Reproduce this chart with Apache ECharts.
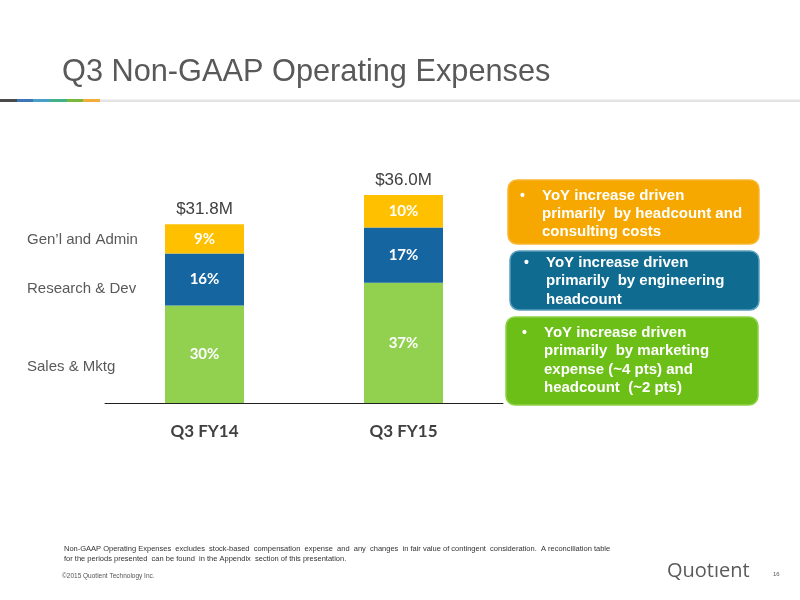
<!DOCTYPE html>
<html>
<head>
<meta charset="utf-8">
<script src="https://cdn.jsdelivr.net/npm/echarts@6/dist/echarts.min.js"></script>
<style>
html,body{margin:0;padding:0;background:#fff;}
#chart{width:800px;height:600px;}
</style>
</head>
<body>
<div id="chart"></div>
<script>
const categories = ['Q3 FY14', 'Q3 FY15'];
const salesMktg = [30, 37];
const researchDev = [16, 17];
const genAdmin = [9, 10];
const totals = ['$31.8M', '$36.0M'];
const segmentNames = ['Sales & Mktg', 'Research & Dev', 'Gen\u2019l and Admin'];
const calloutTexts = [
  ['YoY increase driven', 'primarily  by headcount and', 'consulting costs'],
  ['YoY increase driven', 'primarily  by engineering', 'headcount'],
  ['YoY increase driven', 'primarily  by marketing', 'expense (~4 pts) and', 'headcount  (~2 pts)']
];
const titleText = 'Q3 Non-GAAP Operating Expenses';
const footnote1 = 'Non-GAAP Operating Expenses  excludes  stock-based  compensation  expense  and  any  changes  in fair value of contingent  consideration.  A reconciliation table';
const footnote2 = 'for the periods presented  can be found  in the Appendix  section of this presentation.';
const copyright = '\u00a92015 Quotient Technology Inc.';
const pageNum = '16';

const chart = echarts.init(document.getElementById('chart'));
const pctLabel = {
  show: true, position: 'inside', color: '#ffffff',
  fontFamily: 'Lato', fontWeight: 'bold', fontSize: 15,
  formatter: p => p.value + '%'
};

function callout(x, y, w, h, fill, stroke, lines, textX, firstY, step) {
  const els = [{
    type: 'rect', shape: {x: x, y: y, width: w, height: h, r: 9},
    style: {fill: fill, stroke: stroke, lineWidth: 1.5}
  }];
  lines.forEach((t, i) => {
    if (i === 0) {
      els.push({type: 'text', style: {x: textX - 22, y: firstY, text: '\u2022', fill: '#fff',
        font: 'bold 14px "Liberation Sans", Arial', verticalAlign: 'middle'}});
    }
    els.push({type: 'text', style: {x: textX, y: firstY + i * step, text: t, fill: '#fff',
      font: 'bold 15px "Liberation Sans", Arial', verticalAlign: 'middle'}});
  });
  return els;
}

const deco = [
  ['#4a4a4a', 0, 17], ['#3f76b8', 17, 33], ['#4a9fc8', 33, 50],
  ['#41b18a', 50, 67], ['#7ab83c', 67, 83], ['#f2ad3a', 83, 100]
];

const graphics = [
  {type: 'text', x: 62, y: 72, scaleX: 0.96, style: {x: 0, y: 0, text: titleText, fill: '#595959',
    font: '32px "Liberation Sans", Arial', verticalAlign: 'middle'}},
  {type: 'rect', shape: {x: 100, y: 99.5, width: 700, height: 2.5}, style: {fill: '#e3e3e3'}},
  ...deco.map(d => ({type: 'rect', shape: {x: d[1], y: 99, width: d[2] - d[1], height: 3}, style: {fill: d[0]}})),
  {type: 'text', style: {x: 27, y: 240, text: segmentNames[2], fill: '#595959', font: '15px "Liberation Sans", Arial', verticalAlign: 'middle'}},
  {type: 'text', style: {x: 27, y: 289, text: segmentNames[1], fill: '#595959', font: '15px "Liberation Sans", Arial', verticalAlign: 'middle'}},
  {type: 'text', style: {x: 27, y: 367, text: segmentNames[0], fill: '#595959', font: '15px "Liberation Sans", Arial', verticalAlign: 'middle'}},
  ...callout(508, 180, 251, 64, '#f6a800', '#f8b733', calloutTexts[0], 542, 196, 18),
  ...callout(510, 251, 249, 59, '#0f6b8f', '#5b9fc0', calloutTexts[1], 546, 263, 18.3),
  ...callout(506, 317, 252, 88, '#6cbf17', '#8fd14a', calloutTexts[2], 544, 333, 18.3),
  {type: 'text', style: {x: 64, y: 549, text: footnote1, fill: '#333', font: '7.5px "Liberation Sans", Arial', verticalAlign: 'middle'}},
  {type: 'text', style: {x: 64, y: 558.5, text: footnote2, fill: '#333', font: '7.5px "Liberation Sans", Arial', verticalAlign: 'middle'}},
  {type: 'text', style: {x: 62, y: 576, text: copyright, fill: '#555', font: '6.5px "Liberation Sans", Arial', verticalAlign: 'middle'}},
  {type: 'text', style: {x: 667, y: 571, text: 'Quot\u0131ent', fill: '#5a5a5a', font: '20px "Open Sans", sans-serif', verticalAlign: 'middle'}},
  {type: 'text', style: {x: 773, y: 574, text: pageNum, fill: '#555', font: '6px "Liberation Sans", Arial', verticalAlign: 'middle'}}
];

chart.setOption({
  animation: false,
  backgroundColor: '#ffffff',
  grid: {left: 105, top: 175.5, width: 398, height: 227.5},
  xAxis: {
    type: 'category', data: categories,
    axisLine: {lineStyle: {color: '#222', width: 1}},
    axisTick: {show: false},
    axisLabel: {color: '#404040', fontFamily: 'Lato', fontWeight: 'bold', fontSize: 17, margin: 20}
  },
  yAxis: {type: 'value', min: 0, max: 70, show: false, splitLine: {show: false}},
  series: [
    {name: segmentNames[0], type: 'bar', stack: 't', barWidth: 79, data: salesMktg,
      itemStyle: {color: '#92d050'}, label: pctLabel},
    {name: segmentNames[1], type: 'bar', stack: 't', barWidth: 79, data: researchDev,
      itemStyle: {color: '#1565a0'}, label: pctLabel},
    {name: segmentNames[2], type: 'bar', stack: 't', barWidth: 79, data: genAdmin,
      itemStyle: {color: '#ffc000'}, label: pctLabel},
    {name: 'Total', type: 'bar', stack: 't', barWidth: 79, data: categories.map(() => 0),
      itemStyle: {color: 'transparent'},
      label: {show: true, position: 'top', distance: 6, color: '#404040',
        fontFamily: '"Liberation Sans", Arial', fontSize: 17,
        formatter: p => totals[p.dataIndex]}}
  ],
  graphic: graphics
});
</script>
</body>
</html>
